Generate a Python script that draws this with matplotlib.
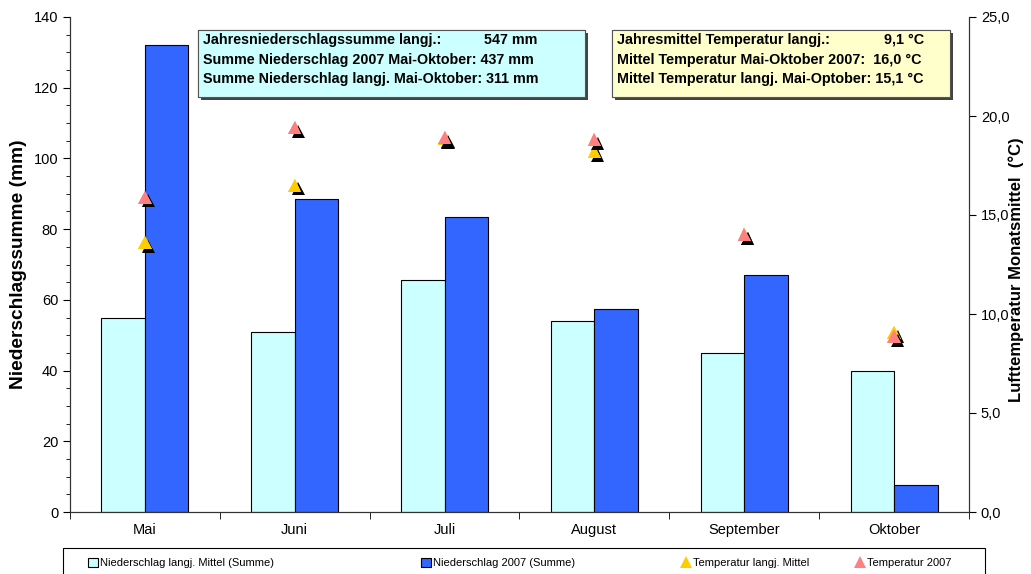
import matplotlib
matplotlib.use("Agg")
import matplotlib.pyplot as plt
import matplotlib.patheffects as pe
from matplotlib.patches import Rectangle, Patch
from matplotlib.lines import Line2D
from matplotlib import font_manager
import numpy as np

plt.rcParams["font.family"] = ["Liberation Sans", "DejaVu Sans"]

monate = ["Mai", "Juni", "Juli", "August", "September", "Oktober"]
nied_langj = [55, 51, 65.5, 54, 45, 40]
nied_2007 = [132, 88.5, 83.5, 57.5, 67, 7.5]
temp_langj = [13.6, 16.5, 18.85, 18.2, 14.0, 9.05]
temp_2007 = [15.9, 19.4, 18.9, 18.8, 14.0, 8.85]

links_ticks = [0, 20, 40, 60, 80, 100, 120, 140]
rechts_ticks = [0, 5, 10, 15, 20, 25]
rechts_labels = ["0,0", "5,0", "10,0", "15,0", "20,0", "25,0"]

namen = {f.name for f in font_manager.fontManager.ttflist}
schmal = "Liberation Sans Narrow" if "Liberation Sans Narrow" in namen else "Liberation Sans"
leg_size = 9 if schmal == "Liberation Sans Narrow" else 8

fig = plt.figure(figsize=(10.31, 5.74), dpi=100)
ax = fig.add_axes([70/1031, 62/574, 899/1031, 495/574])
ax2 = ax.twinx()

x = np.arange(len(monate))
w = 0.29
ax.bar(x - w/2, nied_langj, w, color="#CCFFFF", edgecolor="black", linewidth=0.8, zorder=2)
ax.bar(x + w/2, nied_2007, w, color="#3366FF", edgecolor="black", linewidth=0.8, zorder=2)

ax.set_xlim(-0.5, len(monate) - 0.5)
ax.set_ylim(0, 140)
ax.set_yticks(links_ticks)
ax.set_yticks(np.arange(0, 141, 5), minor=True)
ax.set_xticks(x)
ax.set_xticklabels(monate, fontsize=10.5)
ax.set_xticks(np.arange(-0.5, len(monate), 1), minor=True)
ax.tick_params(axis="x", which="major", length=0, pad=8)
ax.tick_params(axis="x", which="minor", length=5, direction="out")
ax.tick_params(axis="y", which="major", length=5, labelsize=10.5)
ax.tick_params(axis="y", which="minor", length=3)
ax.set_ylabel("Niederschlagssumme (mm)", fontsize=13.8, fontweight="bold", labelpad=5)

schatten = [pe.withSimplePatchShadow(offset=(2.5, -2.5), shadow_rgbFace="black", alpha=1.0), pe.Normal()]
ax2.plot(x, temp_langj, linestyle="none", marker="^", markersize=9.5, color="#FFCC00",
         markeredgewidth=0, path_effects=schatten, zorder=3)
ax2.plot(x, temp_2007, linestyle="none", marker="^", markersize=9.5, color="#FF8080",
         markeredgewidth=0, path_effects=schatten, zorder=4)
ax2.set_ylim(0, 25)
ax2.set_yticks(rechts_ticks)
ax2.set_yticklabels(rechts_labels, fontsize=10.5)
ax2.tick_params(axis="y", length=5)
fig.text(1016/1031, 1 - 270/574, "Lufttemperatur Monatsmittel  (°C)", rotation=90,
         ha="center", va="center", fontsize=12, fontweight="bold")

for a in (ax, ax2):
    a.spines["top"].set_visible(False)
    for s in ("left", "right", "bottom"):
        a.spines[s].set_color("#333333")

# Infoboxen
def box(x0, x1, farbe):
    y0, y1 = 1 - 97/574, 1 - 30/574
    r = Rectangle((x0/1031, y0), (x1 - x0)/1031, y1 - y0, transform=fig.transFigure,
                  facecolor=farbe, edgecolor="#555555", linewidth=0.8, zorder=5,
                  path_effects=[pe.withSimplePatchShadow(offset=(2, -2), shadow_rgbFace="#444444", alpha=1.0), pe.Normal()])
    fig.patches.append(r)

box(198, 585, "#CCFFFF")
box(612, 950, "#FFFFCC")

zeilen_y = [40, 60, 79]
kw = dict(fontsize=10.3, fontweight="bold", va="center", zorder=6)
fig.text(203/1031, 1 - zeilen_y[0]/574, "Jahresniederschlagssumme langj.:", ha="left", **kw)
fig.text(537/1031, 1 - zeilen_y[0]/574, "547 mm", ha="right", **kw)
fig.text(203/1031, 1 - zeilen_y[1]/574, "Summe Niederschlag 2007 Mai-Oktober: 437 mm", ha="left", **kw)
fig.text(203/1031, 1 - zeilen_y[2]/574, "Summe Niederschlag langj. Mai-Oktober: 311 mm", ha="left", **kw)

kw["fontsize"] = 10.4
fig.text(617/1031, 1 - zeilen_y[0]/574, "Jahresmittel Temperatur langj.:", ha="left", **kw)
fig.text(924/1031, 1 - zeilen_y[0]/574, "9,1 °C", ha="right", **kw)
fig.text(617/1031, 1 - zeilen_y[1]/574, "Mittel Temperatur Mai-Oktober 2007:  16,0 °C", ha="left", **kw)
fig.text(617/1031, 1 - zeilen_y[2]/574, "Mittel Temperatur langj. Mai-Optober: 15,1 °C", ha="left", **kw)

# Legende: Rahmen + einzelne Eintraege
rahmen = Rectangle((63/1031, -0.02), 922/1031, 1 - 548/574 + 0.02, transform=fig.transFigure,
                   facecolor="white", edgecolor="black", linewidth=0.8, zorder=1)
fig.patches.append(rahmen)

handles = [
    Patch(facecolor="#CCFFFF", edgecolor="black", linewidth=0.8),
    Patch(facecolor="#3366FF", edgecolor="black", linewidth=0.8),
    Line2D([], [], linestyle="none", marker="^", markersize=8, color="#FFCC00", markeredgewidth=0),
    Line2D([], [], linestyle="none", marker="^", markersize=8, color="#FF8080", markeredgewidth=0),
]
labels = ["Niederschlag langj. Mittel (Summe)", "Niederschlag 2007 (Summe)",
          "Temperatur langj. Mittel", "Temperatur 2007"]
start_x = [88, 421, 681, 855]
for h, l, sx in zip(handles, labels, start_x):
    fig.legend([h], [l], loc="center left", bbox_to_anchor=(sx/1031, 1 - 563/574),
               prop={"family": schmal, "size": leg_size}, frameon=False,
               handlelength=0.9, handleheight=0.9, handletextpad=0.15,
               borderpad=0, borderaxespad=0)

fig.savefig("out.png", dpi=100)
